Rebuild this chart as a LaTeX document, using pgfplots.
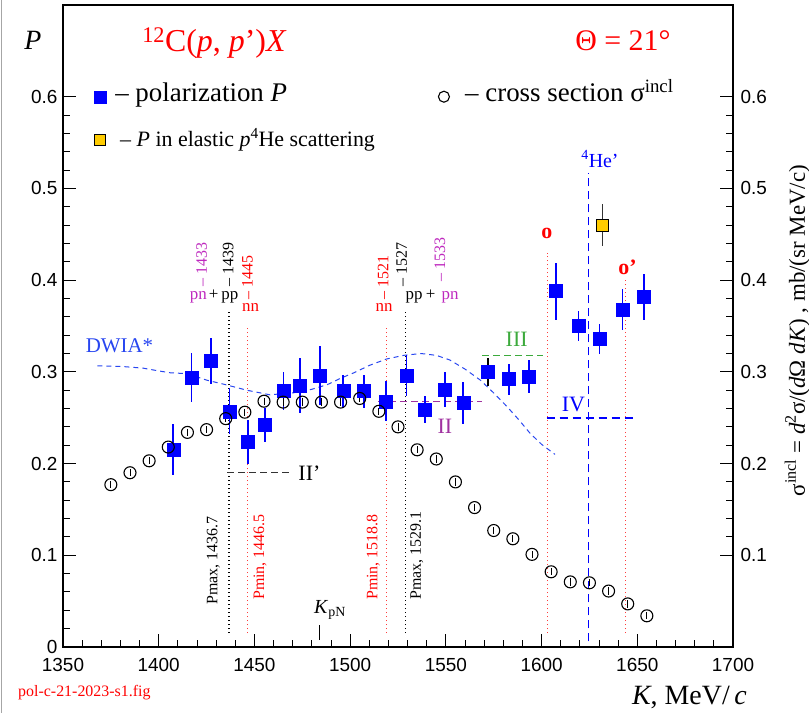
\documentclass[border=0pt]{standalone}
\usepackage{fontspec}
\setmainfont{Liberation Serif}
\newfontfamily\sansf{Liberation Sans}
\usepackage{pgfplots}
\pgfplotsset{compat=1.18}
\usepackage{pgfplotstable}
\definecolor{myred}{RGB}{255,0,0}
\definecolor{dotred}{RGB}{255,60,60}
\definecolor{mymag}{RGB}{190,40,190}
\definecolor{mypurp}{RGB}{160,50,160}
\definecolor{mygreen}{RGB}{60,170,60}
\definecolor{myyellow}{RGB}{255,204,0}
\definecolor{dwia}{RGB}{40,70,240}
\newcommand{\fs}[1]{\fontsize{#1}{#1}\selectfont}

\pgfplotstableread{
x y e
1407.6 0.215 0.028
1417.2 0.294 0.027
1427.2 0.312 0.025
1436.9 0.257 0.025
1446.6 0.224 0.024
1455.5 0.242 0.019
1465.1 0.279 0.021
1473.8 0.285 0.030
1484.3 0.296 0.032
1496.4 0.279 0.018
1507.2 0.279 0.018
1518.7 0.268 0.022
1529.5 0.296 0.022
1539.1 0.259 0.015
1549.5 0.281 0.019
1559.1 0.266 0.023
1583.0 0.292 0.017
1593.4 0.295 0.018
1607.4 0.388 0.031
1619.2 0.350 0.016
1630.2 0.336 0.016
1642.2 0.368 0.022
1653.5 0.382 0.025
}\polP

\pgfplotstableread{
x y e
1571.9 0.300 0.0155
}\polPblack

\pgfplotstableread{
x y e
1631.7 0.460 0.023
}\heP

\pgfplotstableread{
x y e
1375 0.177 0.004
1385 0.190 0.004
1395 0.203 0.004
1405 0.218 0.004
1415 0.234 0.004
1425 0.237 0.004
1435 0.249 0.004
1445 0.256 0.004
1455 0.268 0.004
1465 0.267 0.004
1475 0.267 0.004
1485 0.267 0.004
1495 0.267 0.004
1505 0.271 0.004
1515 0.257 0.004
1525 0.240 0.004
1535 0.215 0.004
1545 0.205 0.004
1555 0.180 0.004
1565 0.152 0.004
1575 0.127 0.004
1585 0.118 0.004
1595 0.101 0.004
1605 0.082 0.004
1615 0.071 0.004
1625 0.070 0.004
1635 0.061 0.004
1645 0.047 0.004
1655 0.034 0.004
}\xsec

\pgfplotstableread{
x y
1368 0.3065
1380 0.3060
1392 0.3040
1400 0.3010
1406 0.2990
1415 0.2980
1425 0.2910
1435 0.2860
1446 0.2800
1458 0.2750
1470 0.2770
1480 0.2810
1488 0.2860
1495 0.2930
1502 0.2990
1510 0.3070
1519 0.3140
1528 0.3180
1537 0.3200
1545 0.3180
1552 0.3130
1560 0.3030
1568 0.2910
1575 0.2770
1582 0.2620
1588 0.2480
1594 0.2330
1600 0.2210
1607 0.2100
}\dwia

\begin{document}
\begin{tikzpicture}
\begin{axis}[name=ax, scale only axis, width=670bp, height=642bp,
  xmin=1350, xmax=1700, ymin=0, ymax=0.7, clip=false,
  axis line style={line width=1.2bp},
  tick align=inside,
  xtick={1350,1400,1450,1500,1550,1600,1650,1700},
  ytick={0,0.1,0.2,0.3,0.4,0.5,0.6},
  minor x tick num=4, minor y tick num=4,
  xtick pos=bottom, ytick pos=left,
  major tick length=13bp, minor tick length=7bp,
  tick style={line width=1bp, black},
  tick label style={font=\sansf\fs{19}},
  /pgf/number format/assume math mode=true,
  x tick label style={yshift=-8bp, /pgf/number format/1000 sep={}},
  y tick label style={xshift=-2bp, /pgf/number format/.cd, fixed, precision=1},
]
% vertical / horizontal guide lines
\addplot[black, line width=1.2bp, dash pattern=on 1.5bp off 2.5bp] coordinates {(1436.7,0.015) (1436.7,0.366)};
\addplot[dotred, line width=1.2bp, dash pattern=on 1.5bp off 2.5bp] coordinates {(1446.5,0.015) (1446.5,0.349)};
\addplot[dotred, line width=1.2bp, dash pattern=on 1.5bp off 2.5bp] coordinates {(1518.8,0.015) (1518.8,0.349)};
\addplot[black, line width=1.2bp, dash pattern=on 1.5bp off 2.5bp] coordinates {(1529.1,0.015) (1529.1,0.366)};
\addplot[dotred, line width=1.1bp, dash pattern=on 1.5bp off 2.5bp] coordinates {(1603,0.015) (1603,0.4295)};
\addplot[dotred, line width=1.1bp, dash pattern=on 1.5bp off 2.5bp] coordinates {(1644,0.015) (1644,0.400)};
\addplot[blue, line width=1.5bp, dash pattern=on 8bp off 5bp] coordinates {(1624.4,0.006) (1624.4,0.517)};
\addplot[blue, line width=1.5bp, dash pattern=on 8bp off 5bp] coordinates {(1602.6,0.2495) (1648,0.2495)};
\addplot[mygreen, line width=1.5bp, dash pattern=on 7bp off 4bp] coordinates {(1569,0.318) (1601,0.318)};
\addplot[mypurp, line width=1.3bp, dash pattern=on 7bp off 4bp] coordinates {(1514.7,0.268) (1568.7,0.268)};
\addplot[black!80, line width=1.2bp, dash pattern=on 7bp off 4bp] coordinates {(1435.8,0.1905) (1468.6,0.1905)};
\addplot[black, line width=1bp] coordinates {(1484,0.008) (1484,0.024)};
% DWIA curve
\addplot[dwia, line width=1bp, dash pattern=on 5bp off 4bp] table[x=x,y=y] {\dwia};
% polarization
\addplot[only marks, mark=square*, mark size=6.5bp, blue, mark options={fill=blue, draw=blue},
  error bars/.cd, y dir=both, y explicit, error mark=none, error bar style={blue, line width=1.6bp}]
  table[x=x, y=y, y error=e] {\polP};
\addplot[only marks, mark=square*, mark size=6.5bp, blue, mark options={fill=blue, draw=blue},
  error bars/.cd, y dir=both, y explicit, error mark=none, error bar style={black, line width=1.6bp}]
  table[x=x, y=y, y error=e] {\polPblack};
% He
\addplot[only marks, mark=square*, mark size=6bp, mark options={fill=myyellow, draw=black, line width=1bp},
  error bars/.cd, y dir=both, y explicit, error mark=none, error bar style={black!80, line width=1.4bp}]
  table[x=x, y=y, y error=e] {\heP};
% cross section
\addplot[only marks, mark=o, mark size=6bp, black, mark options={line width=1.1bp},
  error bars/.cd, y dir=both, y explicit, error mark=none, error bar style={black, line width=0.8bp}]
  table[x=x, y=y, y error=e] {\xsec};
% legend markers
\addplot[only marks, mark=square*, mark size=6bp, mark options={fill=blue, draw=blue}] coordinates {(1369.3,0.600)};
\addplot[only marks, mark=square*, mark size=5.5bp, mark options={fill=myyellow, draw=black, line width=1bp}] coordinates {(1369.3,0.553)};
\addplot[only marks, mark=o, mark size=5.5bp, mark options={black, line width=1.1bp}] coordinates {(1549,0.600)};
% legend texts
\node[anchor=base west, inner sep=0pt, font=\fs{27}] at (axis cs:1377.2,0.5948) {– polarization \textit{P}};
\node[anchor=base west, inner sep=0pt, font=\fs{22}] at (axis cs:1379.8,0.5458) {– \textit{P} in elastic \textit{p}\textsuperscript{4}He scattering};
\node[anchor=base west, inner sep=0pt, font=\fs{27}] at (axis cs:1560,0.5948) {– cross section σ\textsuperscript{incl}};
% titles
\node[anchor=base west, inner sep=0pt, font=\fs{32}, text=myred] at (axis cs:1391.3,0.649) {\textsuperscript{12}C(\textit{p}, \textit{p}')\textit{X}};
\node[anchor=base west, inner sep=0pt, font=\fs{30}, text=myred] at (axis cs:1617.5,0.650) {Θ = 21°};
\node[anchor=base, inner sep=0pt, font=\fs{28}] at (axis cs:1334.3,0.651) {\textit{P}};
\node[anchor=base west, inner sep=0pt, font=\fs{28}] at (axis cs:1647.2,-0.0622) {\textit{K}, MeV/\,\textit{c}};
\node[anchor=base west, inner sep=0pt, font=\fs{16}, text=myred] at (axis cs:1326.5,-0.0545) {pol-c-21-2023-s1.fig};
\node[anchor=base, inner sep=0pt, rotate=90, font=\fs{23}] at (axis cs:1737.6,0.345) {σ\textsuperscript{incl} = \textit{d}\textsuperscript{2}σ/(\textit{d}Ω \textit{dK}) , mb/(sr MeV/c)};
% annotations
\node[font=\fs{21}, text=dwia] at (axis cs:1379.5,0.329) {DWIA*};
\node[anchor=west, font=\fs{22}, inner sep=0pt] at (axis cs:1472.9,0.1895) {II'};
\node[font=\fs{22}, text=mypurp] at (axis cs:1549.5,0.2403) {II};
\node[font=\fs{22}, text=mygreen] at (axis cs:1587,0.335) {III};
\node[font=\fs{22}, text=blue] at (axis cs:1616.6,0.264) {IV};
\node[font=\bfseries\fs{22}, text=myred] at (axis cs:1602.8,0.4505) {o};
\node[font=\bfseries\fs{22}, text=myred] at (axis cs:1644.9,0.4145) {o'};
\node[font=\fs{20}, text=blue] at (axis cs:1630.5,0.532) {\textsuperscript{4}He'};
\node[font=\fs{20}] at (axis cs:1489.5,0.040) {\textit{K}\textsubscript{pN}};
% left group
\node[anchor=base, inner sep=0pt, font=\fs{17}, text=mymag] at (axis cs:1420.7,0.3785) {pn};
\node[anchor=base, inner sep=0pt, font=\fs{17}] at (axis cs:1428.7,0.3785) {+};
\node[anchor=base, inner sep=0pt, font=\fs{17}] at (axis cs:1437.2,0.3785) {pp};
\node[anchor=base, inner sep=0pt, font=\fs{17}, text=myred] at (axis cs:1448,0.3658) {nn};
\node[anchor=west, rotate=90, inner sep=0pt, font=\fs{16}, text=mymag] at (axis cs:1422.4,0.393) {– 1433};
\node[anchor=west, rotate=90, inner sep=0pt, font=\fs{16}] at (axis cs:1436.3,0.393) {– 1439};
\node[anchor=west, rotate=90, inner sep=0pt, font=\fs{16}, text=myred] at (axis cs:1446.3,0.3785) {– 1445};
% right group
\node[anchor=base, inner sep=0pt, font=\fs{17}, text=myred] at (axis cs:1517.7,0.3658) {nn};
\node[anchor=base, inner sep=0pt, font=\fs{17}] at (axis cs:1533.4,0.3785) {pp};
\node[anchor=base, inner sep=0pt, font=\fs{17}] at (axis cs:1542.1,0.3785) {+};
\node[anchor=base, inner sep=0pt, font=\fs{17}, text=mymag] at (axis cs:1552.2,0.3785) {pn};
\node[anchor=west, rotate=90, inner sep=0pt, font=\fs{16}, text=myred] at (axis cs:1517.3,0.3785) {– 1521};
\node[anchor=west, rotate=90, inner sep=0pt, font=\fs{16}] at (axis cs:1526.9,0.393) {– 1527};
\node[anchor=west, rotate=90, inner sep=0pt, font=\fs{16}, text=mymag] at (axis cs:1546.9,0.3985) {– 1533};
% Pmax / Pmin
\node[anchor=west, rotate=90, inner sep=0pt, font=\fs{16}] at (axis cs:1428.5,0.0458) {Pmax, 1436.7};
\node[anchor=west, rotate=90, inner sep=0pt, font=\fs{16}, text=myred] at (axis cs:1452.9,0.0513) {Pmin, 1446.5};
\node[anchor=west, rotate=90, inner sep=0pt, font=\fs{16}, text=myred] at (axis cs:1512.1,0.0513) {Pmin, 1518.8};
\node[anchor=west, rotate=90, inner sep=0pt, font=\fs{16}] at (axis cs:1534.8,0.0513) {Pmax, 1529.1};
\end{axis}
\begin{axis}[scale only axis, width=670bp, height=642bp,
  xmin=1350, xmax=1700, ymin=0, ymax=0.7,
  hide x axis, axis y line*=right,
  axis line style={line width=1.2bp},
  tick align=inside,
  ytick={0.1,0.2,0.3,0.4,0.5,0.6},
  minor y tick num=4,
  major tick length=13bp, minor tick length=7bp,
  tick style={line width=1bp, black},
  tick label style={font=\sansf\fs{19}},
  /pgf/number format/assume math mode=true,
  y tick label style={xshift=4bp, /pgf/number format/.cd, fixed, precision=1},
]
\end{axis}
\draw[gray!70, line width=1bp] (ax.south west) ++(-61.5bp,-66bp) -- ++(0,713bp);
\pgfresetboundingbox
\path[use as bounding box] (ax.south west) ++(-63bp,-66bp) rectangle ++(809bp,713bp);
\end{tikzpicture}
\end{document}
